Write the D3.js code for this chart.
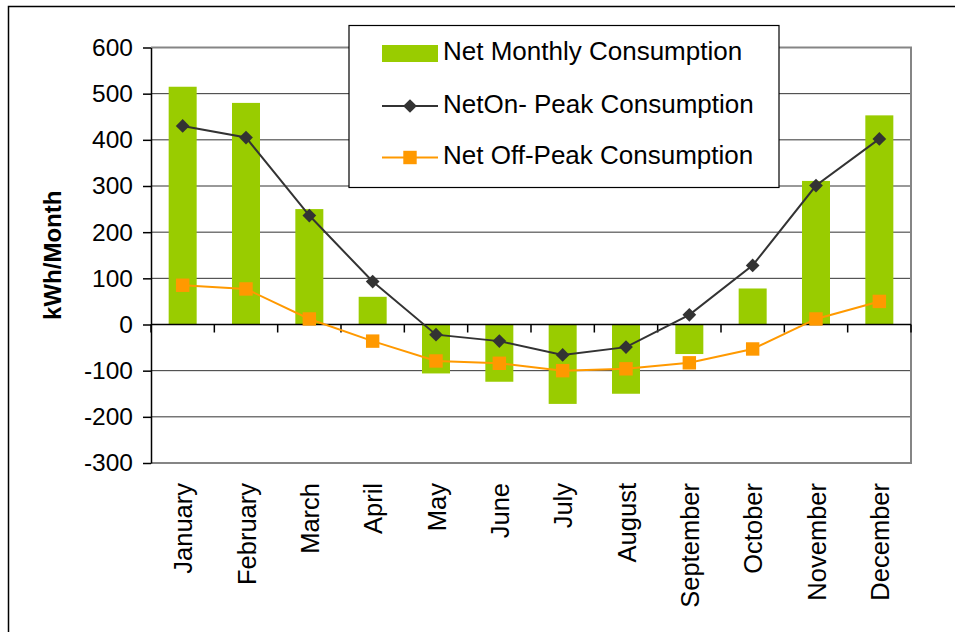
<!DOCTYPE html>
<html>
<head>
<meta charset="utf-8">
<script src="https://cdn.jsdelivr.net/npm/d3@7"></script>
<style>
  body { margin: 0; background: #fff; }
  text { font-family: "Liberation Sans", Arial, sans-serif; }
</style>
</head>
<body>
<div id="chart"></div>
<script>
// Monthly consumption data (kWh/Month)
var months = ["January", "February", "March", "April", "May", "June",
    "July", "August", "September", "October", "November", "December"];
var netMonthly = [515, 480, 250, 60, -106, -124, -172, -150, -64, 78, 311, 453];
var netOnPeak = [430, 405, 236, 93, -22, -36, -66, -49, 21, 128, 301, 402];
var netOffPeak = [85, 77, 12, -36, -79, -84, -100, -96, -83, -53, 12, 50];
var yTicks = [-300, -200, -100, 0, 100, 200, 300, 400, 500, 600];
var seriesNames = ["Net Monthly Consumption", "NetOn- Peak Consumption", "Net Off-Peak Consumption"];

var width = 955, height = 632;
var margin = { top: 47.5, right: 44, bottom: 169, left: 151 };
var w = width - margin.left - margin.right;
var h = height - margin.top - margin.bottom;

var svg = d3.select("#chart").append("svg")
    .attr("width", width)
    .attr("height", height);

// outer frame
svg.append("rect")
    .attr("x", 8.5).attr("y", 6.5)
    .attr("width", width + 10).attr("height", height + 10)
    .attr("fill", "none").attr("stroke", "#000").attr("stroke-width", 1.5);

var g = svg.append("g")
    .attr("transform", "translate(" + margin.left + "," + margin.top + ")");

var x = d3.scaleBand().domain(months).range([0, w]);
var y = d3.scaleLinear().domain([-300, 600]).range([h, 0]);

// gridlines
g.selectAll(".grid")
    .data(yTicks.filter(function (d) { return d !== -300 && d !== 600; }))
    .enter().append("line")
    .attr("x1", 0).attr("x2", w)
    .attr("y1", function (d) { return y(d); })
    .attr("y2", function (d) { return y(d); })
    .attr("stroke", "#333").attr("stroke-width", 1);

// plot border (top, right, bottom)
g.append("path")
    .attr("d", "M0," + y(600) + "H" + w + "V" + y(-300) + "H0")
    .attr("fill", "none").attr("stroke", "#858585").attr("stroke-width", 2);

// bars
var barW = 28;
g.selectAll(".bar")
    .data(netMonthly)
    .enter().append("rect")
    .attr("x", function (d, i) { return x(months[i]) + x.bandwidth() / 2 - barW / 2; })
    .attr("y", function (d) { return y(Math.max(0, d)); })
    .attr("width", barW)
    .attr("height", function (d) { return Math.abs(y(d) - y(0)); })
    .attr("fill", "#99CC00");

// y axis
var yAxis = d3.axisLeft(y).tickValues(yTicks).tickSize(8).tickSizeOuter(0).tickPadding(10)
    .tickFormat(function (d) { return String(d); });
var ya = g.append("g").call(yAxis);
ya.select(".domain").attr("stroke", "#000").attr("stroke-width", 1.5);
ya.selectAll(".tick line").attr("stroke", "#000").attr("stroke-width", 1.5);
ya.selectAll("text")
    .style("font-size", "24.5px").attr("fill", "#000");

// x axis at zero: tick marks at category boundaries
g.append("line")
    .attr("x1", 0).attr("x2", w).attr("y1", y(0)).attr("y2", y(0))
    .attr("stroke", "#000").attr("stroke-width", 1.5);
g.selectAll(".xtick")
    .data(d3.range(months.length + 1))
    .enter().append("line")
    .attr("x1", function (i) { return i < months.length ? x(months[i]) : w; })
    .attr("x2", function (i) { return i < months.length ? x(months[i]) : w; })
    .attr("y1", y(0)).attr("y2", y(0) + 8)
    .attr("stroke", "#000").attr("stroke-width", 1.5);

// month labels (rotated)
g.selectAll(".mlabel")
    .data(months)
    .enter().append("text")
    .attr("transform", function (d) {
        return "translate(" + (x(d) + x.bandwidth() / 2 + 9.5) + "," + (h + 20) + ") rotate(-90)";
    })
    .attr("text-anchor", "end")
    .style("font-size", "25.5px")
    .text(function (d) { return d; });

// y axis title
svg.append("text")
    .attr("transform", "translate(61," + (margin.top + h / 2) + ") rotate(-90)")
    .attr("text-anchor", "middle")
    .style("font-size", "24px").style("font-weight", "bold")
    .text("kWh/Month");

// lines
var line = d3.line()
    .x(function (d, i) { return x(months[i]) + x.bandwidth() / 2; })
    .y(function (d) { return y(d); });

g.append("path").datum(netOnPeak)
    .attr("d", line).attr("fill", "none")
    .attr("stroke", "#333").attr("stroke-width", 2);
g.append("path").datum(netOffPeak)
    .attr("d", line).attr("fill", "none")
    .attr("stroke", "#FF9900").attr("stroke-width", 2);

var diamond = d3.symbol().type(d3.symbolDiamond2).size(120);
var square = d3.symbol().type(d3.symbolSquare).size(180);

g.selectAll(".on")
    .data(netOnPeak)
    .enter().append("path")
    .attr("d", diamond)
    .attr("transform", function (d, i) {
        return "translate(" + (x(months[i]) + x.bandwidth() / 2) + "," + y(d) + ")";
    })
    .attr("fill", "#333");
g.selectAll(".off")
    .data(netOffPeak)
    .enter().append("path")
    .attr("d", square)
    .attr("transform", function (d, i) {
        return "translate(" + (x(months[i]) + x.bandwidth() / 2) + "," + y(d) + ")";
    })
    .attr("fill", "#FF9900");

// legend
var lg = svg.append("g").attr("transform", "translate(349,25.5)");
lg.append("rect")
    .attr("width", 430).attr("height", 162)
    .attr("fill", "#fff").attr("stroke", "#000").attr("stroke-width", 1.2);
var rowY = [28, 80.5, 132];
lg.append("rect")
    .attr("x", 33).attr("y", rowY[0] - 8.5).attr("width", 56).attr("height", 17)
    .attr("fill", "#99CC00");
lg.append("line")
    .attr("x1", 33).attr("x2", 89).attr("y1", rowY[1]).attr("y2", rowY[1])
    .attr("stroke", "#333").attr("stroke-width", 2);
lg.append("path").attr("d", diamond)
    .attr("transform", "translate(61," + rowY[1] + ")").attr("fill", "#333");
lg.append("line")
    .attr("x1", 33).attr("x2", 89).attr("y1", rowY[2]).attr("y2", rowY[2])
    .attr("stroke", "#FF9900").attr("stroke-width", 2);
lg.append("path").attr("d", square)
    .attr("transform", "translate(61," + rowY[2] + ")").attr("fill", "#FF9900");
lg.selectAll(".ltext")
    .data(seriesNames)
    .enter().append("text")
    .attr("x", 94)
    .attr("y", function (d, i) { return rowY[i] + 6.5; })
    .style("font-size", "26px")
    .text(function (d) { return d; });
</script>
</body>
</html>
